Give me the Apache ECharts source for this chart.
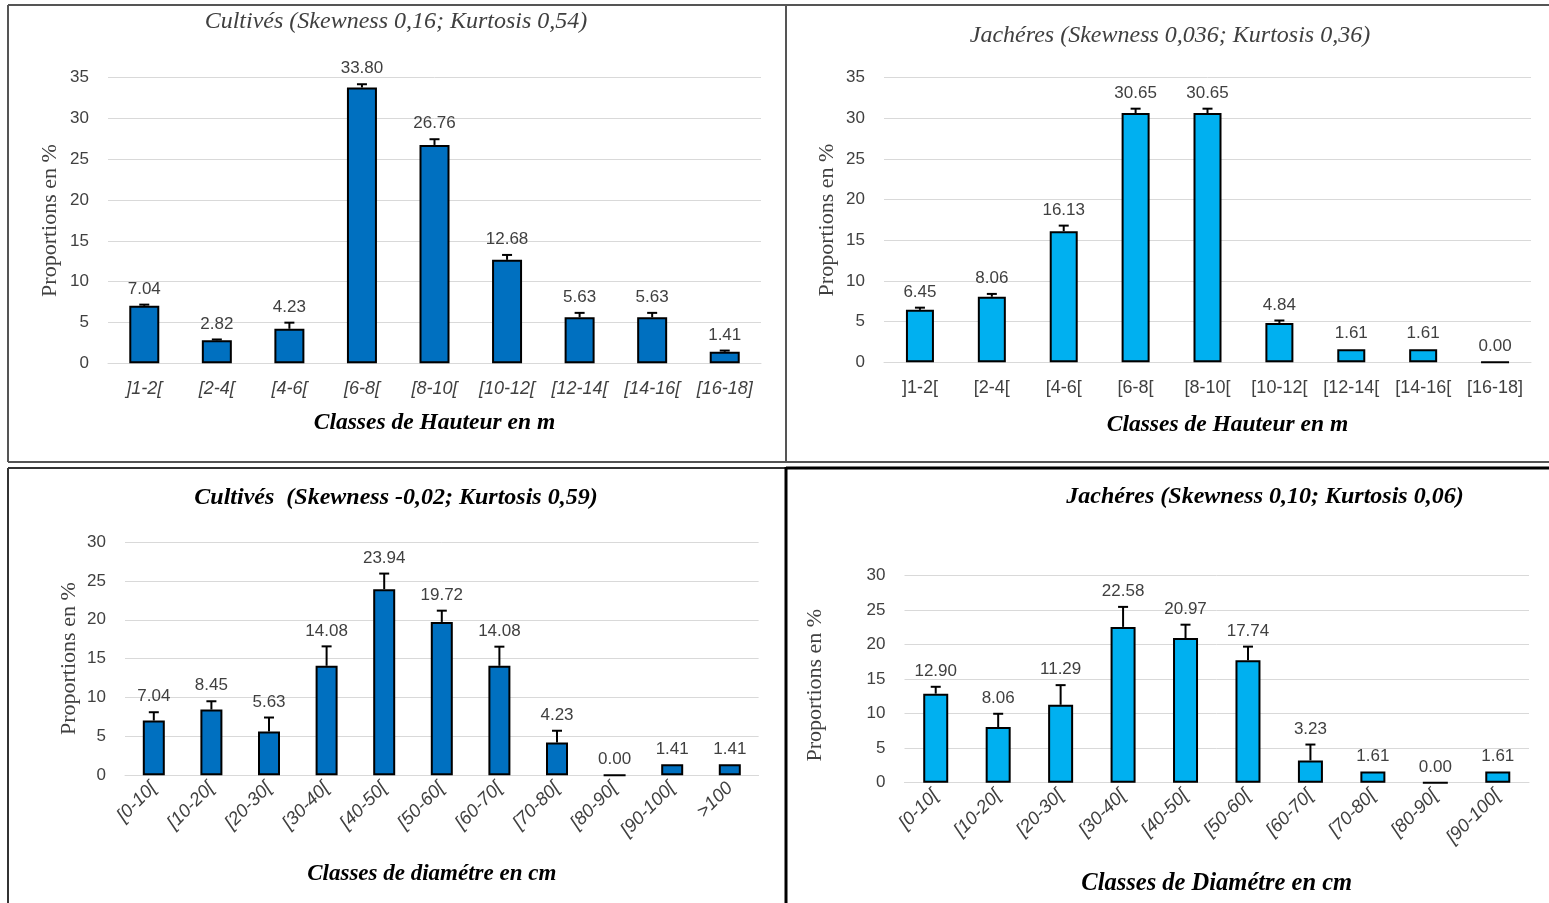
<!DOCTYPE html>
<html>
<head>
<meta charset="utf-8">
<title>Proportions par classes</title>
<script src="https://cdn.jsdelivr.net/npm/echarts@6/dist/echarts.min.js"></script>
<style>
  html, body { margin: 0; padding: 0; background: #fff; }
  #chart { width: 1549px; height: 903px; }
</style>
</head>
<body>
<div id="chart"></div>
<script>
// height classes (top row)
const heightClasses = [']1-2[', '[2-4[', '[4-6[', '[6-8[', '[8-10[', '[10-12[', '[12-14[', '[14-16[', '[16-18]'];
const cultHeight = [7.04, 2.82, 4.23, 33.80, 26.76, 12.68, 5.63, 5.63, 1.41];
const cultHeightErr = [0.15, 0.1, 0.75, 0.4, 0.7, 0.6, 0.55, 0.55, 0.15];
const jachHeight = [6.45, 8.06, 16.13, 30.65, 30.65, 4.84, 1.61, 1.61, 0.00];
const jachHeightErr = [0.27, 0.35, 0.68, 0.54, 0.54, 0.3, 0, 0, 0];

// diameter classes (bottom row)
const cultDiamClasses = ['[0-10[', '[10-20[', '[20-30[', '[30-40[', '[40-50[', '[50-60[', '[60-70[', '[70-80[', '[80-90[', '[90-100[', '>100'];
const cultDiam = [7.04, 8.45, 5.63, 14.08, 23.94, 19.72, 14.08, 4.23, 0.00, 1.41, 1.41];
const cultDiamErr = [1.07, 1.07, 1.8, 2.5, 2.0, 1.45, 2.46, 1.5, 0, 0, 0];
const jachDiamClasses = ['[0-10[', '[10-20[', '[20-30[', '[30-40[', '[40-50[', '[50-60[', '[60-70[', '[70-80[', '[80-90[', '[90-100['];
const jachDiam = [12.90, 8.06, 11.29, 22.58, 20.97, 17.74, 3.23, 1.61, 0.00, 1.61];
const jachDiamErr = [1.0, 1.93, 2.85, 2.9, 1.93, 1.98, 2.3, 0, 0, 0];

const DARK_BLUE = '#0070c0';
const LIGHT_BLUE = '#00b0f0';
const SANS = "'Liberation Sans', Arial, sans-serif";
const SERIF = "'Liberation Serif', 'Times New Roman', serif";

const chart = echarts.init(document.getElementById('chart'), null, { renderer: 'canvas' });

// upper error bar + value label, drawn at the bar's value through the axes
function errorBar(params, api) {
  const v = api.value(1);
  const e = api.value(2);
  const base = api.coord([api.value(0), v]);
  const top = api.coord([api.value(0), v + e]);
  const children = [];
  if (e > 0) {
    children.push({ type: 'line', shape: { x1: base[0], y1: base[1], x2: top[0], y2: top[1] }, style: { stroke: '#000', lineWidth: 2 } });
    children.push({ type: 'line', shape: { x1: top[0] - 5, y1: top[1], x2: top[0] + 5, y2: top[1] }, style: { stroke: '#000', lineWidth: 2 } });
  }
  children.push({
    type: 'text',
    style: {
      x: top[0], y: top[1] - 7, text: v.toFixed(2),
      align: 'center', verticalAlign: 'bottom',
      fill: '#404040', font: '17px ' + SANS
    }
  });
  return { type: 'group', children };
}

function xAxisFor(gi, cats, opts) {
  return {
    type: 'category', gridIndex: gi, data: cats,
    axisLine: { lineStyle: { color: '#d9d9d9', width: 1 } },
    axisTick: { show: false },
    axisLabel: {
      interval: 0, color: '#404040', fontFamily: SANS, fontSize: opts.labelSize,
      fontStyle: opts.italic ? 'italic' : 'normal', rotate: opts.rotate || 0, margin: opts.margin
    },
    name: opts.name, nameLocation: 'middle', nameGap: opts.nameGap,
    nameTextStyle: {
      fontFamily: SERIF, fontStyle: 'italic', fontWeight: 'bold', fontSize: opts.nameSize,
      color: '#000', padding: opts.namePad || 0
    }
  };
}

function yAxisFor(gi, max, nameGap, namePad) {
  return {
    type: 'value', gridIndex: gi, min: 0, max: max, interval: 5,
    axisLine: { show: false }, axisTick: { show: false },
    splitLine: { lineStyle: { color: '#d9d9d9', width: 1 } },
    axisLabel: { color: '#404040', fontFamily: SANS, fontSize: 17, margin: 19 },
    name: 'Proportions en %', nameLocation: 'middle', nameGap: nameGap,
    nameTextStyle: { fontFamily: SERIF, fontSize: 22, color: '#404040', padding: namePad || 0 }
  };
}

function barsFor(gi, values, color, width) {
  return {
    type: 'bar', xAxisIndex: gi, yAxisIndex: gi, data: values, barWidth: width,
    itemStyle: { color: color, borderColor: '#000', borderWidth: 2 }
  };
}

function errorsFor(gi, values, errs) {
  return {
    type: 'custom', xAxisIndex: gi, yAxisIndex: gi, z: 5,
    renderItem: errorBar,
    data: values.map((v, i) => [i, v, errs[i]])
  };
}

function titleText(x, y, text, bold) {
  return {
    type: 'text', x: x, y: y,
    style: {
      text: text, align: 'center', verticalAlign: 'middle',
      fill: bold ? '#000' : '#404040',
      font: 'italic ' + (bold ? 'bold ' : '') + '24px ' + SERIF
    }
  };
}

function frameLine(x1, y1, x2, y2, color, w) {
  return { type: 'line', shape: { x1, y1, x2, y2 }, style: { stroke: color, lineWidth: w }, silent: true };
}

chart.setOption({
  animation: false,
  grid: [
    { left: 108, top: 77.7, width: 653, height: 285.6 },
    { left: 884, top: 77.7, width: 647, height: 284.6 },
    { left: 125, top: 542, width: 633.6, height: 233.3 },
    { left: 904.5, top: 575.7, width: 624.5, height: 207 }
  ],
  xAxis: [
    xAxisFor(0, heightClasses, { labelSize: 18, italic: true, margin: 17, name: 'Classes de Hauteur en m', nameGap: 48, nameSize: 23.5 }),
    xAxisFor(1, heightClasses, { labelSize: 18, italic: false, margin: 17, name: 'Classes de Hauteur en m', nameGap: 51, nameSize: 23.5, namePad: [0, 0, 0, 40] }),
    xAxisFor(2, cultDiamClasses, { labelSize: 18.5, italic: true, rotate: 45, margin: 10, name: 'Classes de diamétre en cm', nameGap: 87, nameSize: 23, namePad: [0, 20, 0, 0] }),
    xAxisFor(3, jachDiamClasses, { labelSize: 18.5, italic: true, rotate: 45, margin: 10, name: 'Classes de Diamétre en cm', nameGap: 88, nameSize: 24.5 })
  ],
  yAxis: [
    yAxisFor(0, 35, 47),
    yAxisFor(1, 35, 46),
    yAxisFor(2, 30, 45),
    yAxisFor(3, 30, 78, [0, 12, 0, 0])
  ],
  series: [
    barsFor(0, cultHeight, DARK_BLUE, 30),
    errorsFor(0, cultHeight, cultHeightErr),
    barsFor(1, jachHeight, LIGHT_BLUE, 28),
    errorsFor(1, jachHeight, jachHeightErr),
    barsFor(2, cultDiam, DARK_BLUE, 22),
    errorsFor(2, cultDiam, cultDiamErr),
    barsFor(3, jachDiam, LIGHT_BLUE, 25),
    errorsFor(3, jachDiam, jachDiamErr)
  ],
  graphic: [
    // panel frames
    frameLine(8, 5, 1549, 5, '#555', 2),
    frameLine(8, 5, 8, 462, '#555', 2),
    frameLine(786, 5, 786, 462, '#555', 2),
    frameLine(8, 462, 1549, 462, '#555', 2),
    frameLine(8, 468, 786, 468, '#333', 2),
    frameLine(8, 468, 8, 903, '#333', 2),
    frameLine(786, 468, 1549, 468, '#000', 3),
    frameLine(786, 467, 786, 903, '#000', 3),
    // titles
    titleText(396, 22, 'Cultivés (Skewness 0,16; Kurtosis 0,54)', false),
    titleText(1170, 36, 'Jachéres (Skewness 0,036; Kurtosis 0,36)', false),
    titleText(396, 498, 'Cultivés  (Skewness -0,02; Kurtosis 0,59)', true),
    titleText(1265, 497, 'Jachéres (Skewness 0,10; Kurtosis 0,06)', true)
  ]
});
</script>
</body>
</html>
